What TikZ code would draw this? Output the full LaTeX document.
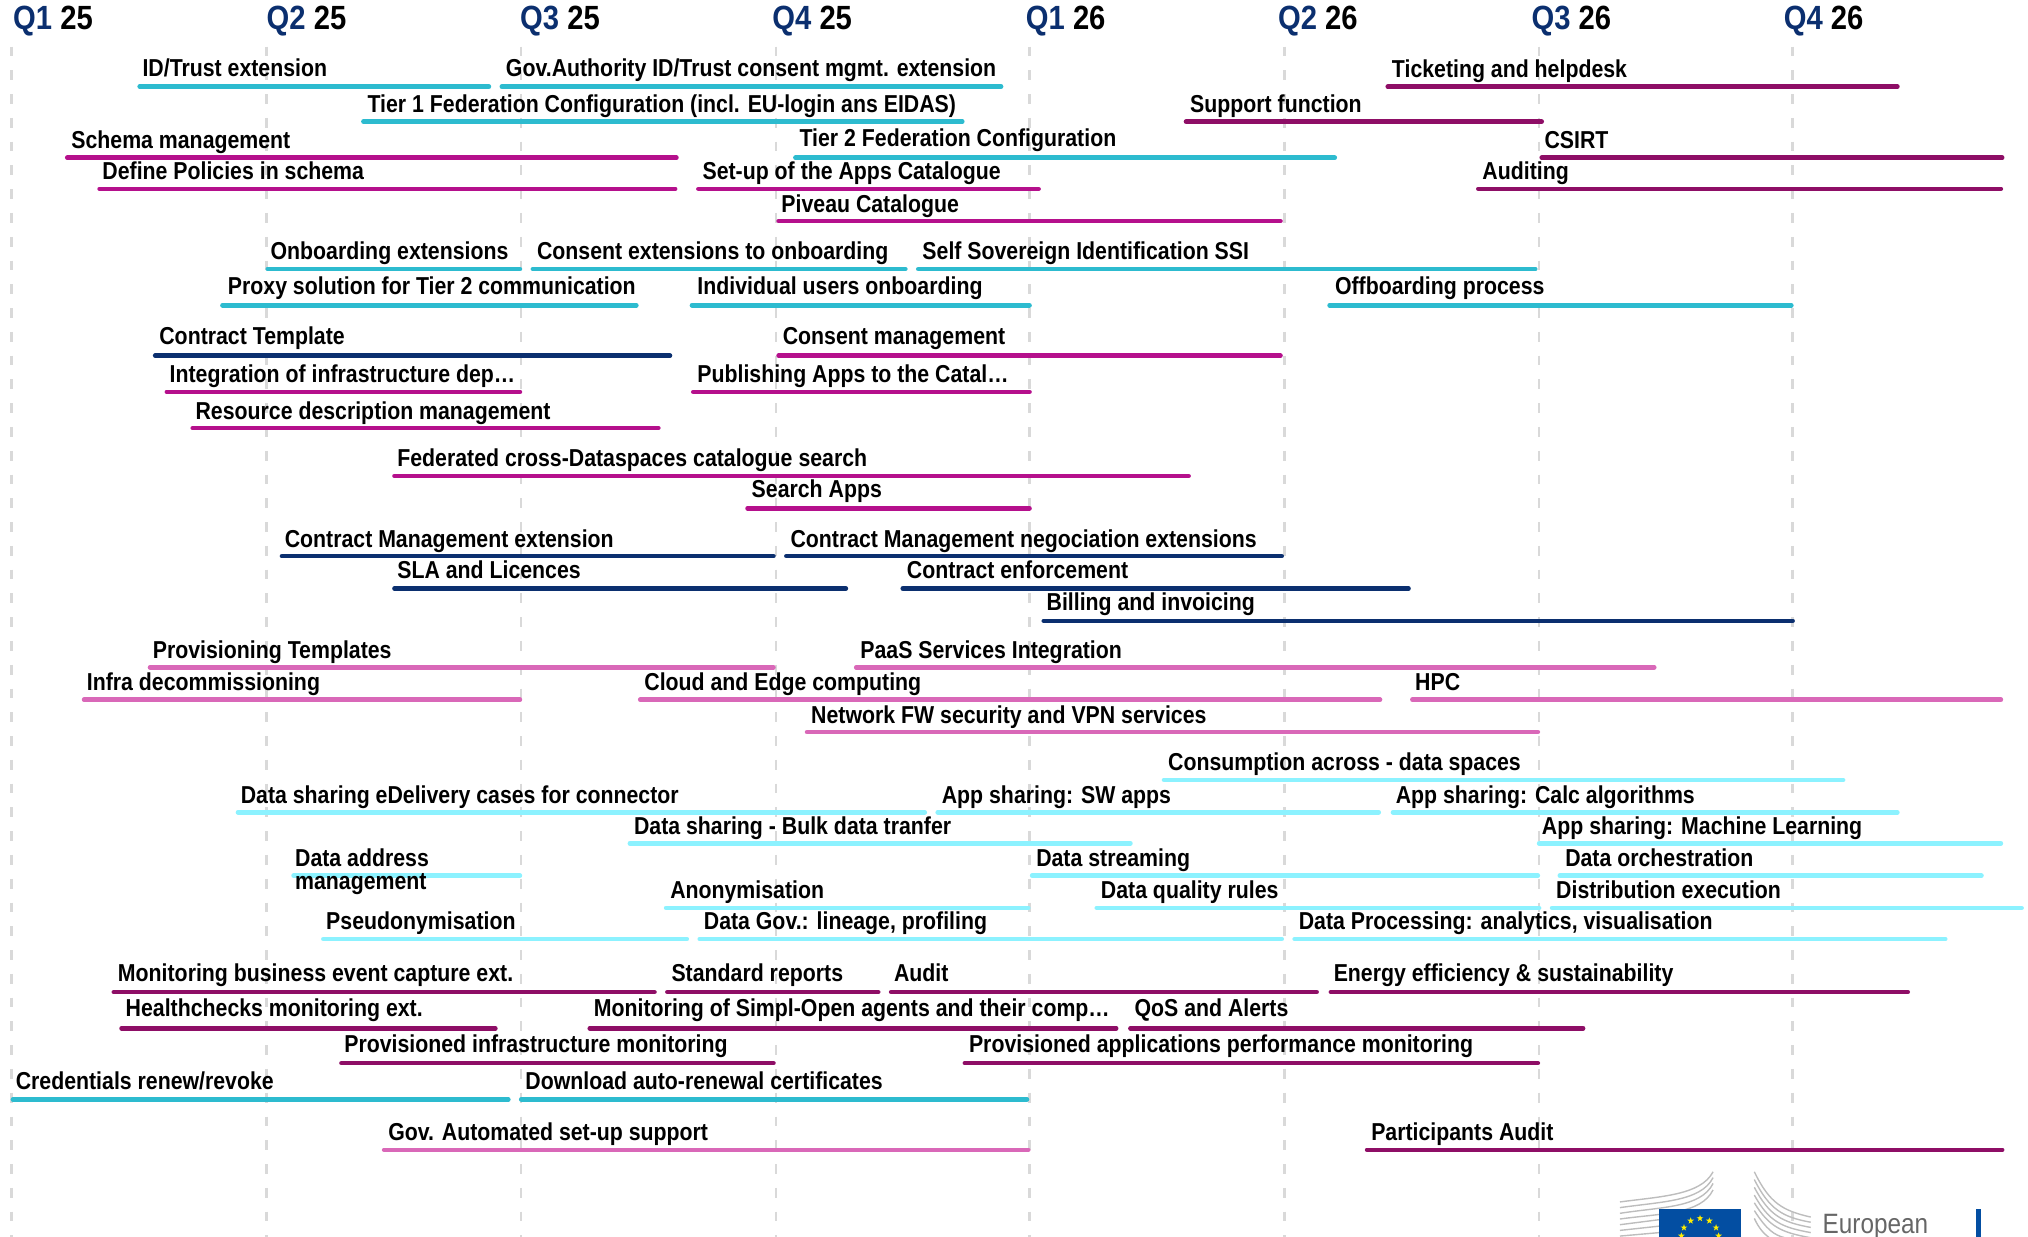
\documentclass[tikz,border=0pt]{standalone}
\usepackage{fontspec}
\setmainfont{Liberation Sans}[FakeStretch=0.87]
\usepackage{xcolor}
\usetikzlibrary{shapes.geometric}

\definecolor{quarterblue}{HTML}{0B2F6F}
\definecolor{tealbar}{HTML}{2DBBCF}
\definecolor{magentabar}{HTML}{B5108C}
\definecolor{navybar}{HTML}{0B2F6F}
\definecolor{pinkbar}{HTML}{D968B8}
\definecolor{cyanbar}{HTML}{8CF2FF}
\definecolor{purplebar}{HTML}{8E0E66}
\definecolor{gridgrey}{HTML}{D9D9D9}
\definecolor{wingsgrey}{HTML}{BDBDBD}
\definecolor{flagblue}{HTML}{034EA2}
\definecolor{flagyellow}{HTML}{FFED00}

\begin{document}
\begin{tikzpicture}[x=0.0325cm,y=-0.0325cm]
\tikzstyle{quarter} = [anchor=base west, inner sep=0pt, font=\fontsize{24pt}{26pt}\selectfont\bfseries]
\tikzstyle{task} = [anchor=base west, inner sep=0pt, font=\fontsize{17.5pt}{19pt}\selectfont\bfseries]
\tikzstyle{grid} = [gridgrey, line width=1.8pt, dash pattern=on 7pt off 10pt]
\tikzstyle{bar} = [line width=3.3pt, line cap=round]
\tikzstyle{teal} = [bar, tealbar]
\tikzstyle{magenta} = [bar, magentabar]
\tikzstyle{navy} = [bar, navybar]
\tikzstyle{pink} = [bar, pinkbar]
\tikzstyle{cyan} = [bar, cyanbar]
\tikzstyle{purple} = [bar, purplebar]
\tikzstyle{wing} = [wingsgrey, line width=1pt]
\tikzstyle{eustar} = [star, star points=5, star point ratio=2.5, fill=flagyellow, inner sep=0pt, minimum size=5pt]

\useasboundingbox (0,0) rectangle (1568,956.4);

% Grid
\draw [grid] (9,36) -- (9,956.4);
\draw [grid] (206,36) -- (206,956.4);
\draw [grid] (403,36) -- (403,956.4);
\draw [grid] (600,36) -- (600,956.4);
\draw [grid] (796,36) -- (796,956.4);
\draw [grid] (993,36) -- (993,956.4);
\draw [grid] (1190,36) -- (1190,956.4);
\draw [grid] (1386,36) -- (1386,956.4);

% Quarters
\node (qa) [quarter] at (10,23) {\textcolor{quarterblue}{Q1} 25};
\node (qb) [quarter] at (206,23) {\textcolor{quarterblue}{Q2} 25};
\node (qc) [quarter] at (402,23) {\textcolor{quarterblue}{Q3} 25};
\node (qd) [quarter] at (597,23) {\textcolor{quarterblue}{Q4} 25};
\node (qe) [quarter] at (793,23) {\textcolor{quarterblue}{Q1} 26};
\node (qf) [quarter] at (988,23) {\textcolor{quarterblue}{Q2} 26};
\node (qg) [quarter] at (1184,23) {\textcolor{quarterblue}{Q3} 26};
\node (qh) [quarter] at (1379,23) {\textcolor{quarterblue}{Q4} 26};

% Bars
\draw [teal] (108,67) -- (378,67);
\draw [teal] (388,67) -- (774,67);
\draw [teal] (281,94) -- (744,94);
\draw [magenta] (52,122) -- (523,122);
\draw [magenta] (77,146) -- (522,146);
\draw [purple] (1073,67) -- (1467,67);
\draw [purple] (917,94) -- (1192,94);
\draw [purple] (1192,122) -- (1548,122);
\draw [purple] (1143,146) -- (1547,146);
\draw [teal] (615,122) -- (1032,122);
\draw [magenta] (540,146) -- (803,146);
\draw [magenta] (602,171) -- (990,171);
\draw [teal] (207,208) -- (402,208);
\draw [teal] (412,208) -- (700,208);
\draw [teal] (710,208) -- (1187,208);
\draw [teal] (172,236) -- (492,236);
\draw [teal] (535,236) -- (796,236);
\draw [teal] (1028,236) -- (1385,236);
\draw [navy] (120,275) -- (518,275);
\draw [magenta] (602,275) -- (990,275);
\draw [magenta] (129,303) -- (402,303);
\draw [magenta] (536,303) -- (796,303);
\draw [magenta] (149,331) -- (509,331);
\draw [magenta] (305,368) -- (919,368);
\draw [magenta] (578,393) -- (796,393);
\draw [navy] (218,430) -- (598,430);
\draw [navy] (608,430) -- (991,430);
\draw [navy] (305,455) -- (654,455);
\draw [navy] (698,455) -- (1089,455);
\draw [navy] (807,480) -- (1386,480);
\draw [pink] (116,516) -- (598,516);
\draw [pink] (662,516) -- (1279,516);
\draw [pink] (65,541) -- (402,541);
\draw [pink] (495,541) -- (1067,541);
\draw [pink] (1092,541) -- (1547,541);
\draw [pink] (624,566) -- (1189,566);
\draw [cyan] (900,603) -- (1425,603);
\draw [cyan] (184,628) -- (715,628);
\draw [cyan] (725,628) -- (1066,628);
\draw [cyan] (1077,628) -- (1467,628);
\draw [cyan] (487,652) -- (874,652);
\draw [cyan] (1190,652) -- (1547,652);
\draw [cyan] (227,677) -- (402,677);
\draw [cyan] (798,677) -- (1189,677);
\draw [cyan] (1206,677) -- (1532,677);
\draw [cyan] (515,702) -- (795,702);
\draw [cyan] (848,702) -- (1190,702);
\draw [cyan] (1200,702) -- (1563,702);
\draw [cyan] (250,726) -- (531,726);
\draw [cyan] (541,726) -- (991,726);
\draw [cyan] (1001,726) -- (1504,726);
\draw [purple] (88,767) -- (506,767);
\draw [purple] (516,767) -- (679,767);
\draw [purple] (689,767) -- (1018,767);
\draw [purple] (1029,767) -- (1475,767);
\draw [purple] (94,795) -- (383,795);
\draw [purple] (456,795) -- (863,795);
\draw [purple] (874,795) -- (1224,795);
\draw [purple] (264,822) -- (598,822);
\draw [purple] (746,822) -- (1189,822);
\draw [teal] (10,850) -- (393,850);
\draw [teal] (403,850) -- (794,850);
\draw [pink] (297,889) -- (795,889);
\draw [purple] (1057,889) -- (1548,889);

% Tasks
\node (idtrust) [task] at (110,59) {ID/Trust extension};
\node (govauth) [task] at (391,59) {Gov.Authority ID/Trust consent mgmt. extension};
\node (tierone) [task] at (284,87) {Tier 1 Federation Configuration (incl. EU-login ans EIDAS)};
\node (schema) [task] at (55,115) {Schema management};
\node (policies) [task] at (79,139) {Define Policies in schema};
\node (ticketing) [task] at (1076,60) {Ticketing and helpdesk};
\node (support) [task] at (920,87) {Support function};
\node (csirt) [task] at (1194,115) {CSIRT};
\node (auditing) [task] at (1146,139) {Auditing};
\node (tiertwo) [task] at (618,113) {Tier 2 Federation Configuration};
\node (appscat) [task] at (543,139) {Set-up of the Apps Catalogue};
\node (piveau) [task] at (604,164) {Piveau Catalogue};
\node (onboarding) [task] at (209,201) {Onboarding extensions};
\node (consentext) [task] at (415,201) {Consent extensions to onboarding};
\node (ssi) [task] at (713,201) {Self Sovereign Identification SSI};
\node (proxy) [task] at (176,228) {Proxy solution for Tier 2 communication};
\node (individual) [task] at (539,228) {Individual users onboarding};
\node (offboarding) [task] at (1032,228) {Offboarding process};
\node (contract) [task] at (123,266) {Contract Template};
\node (consent) [task] at (605,266) {Consent management};
\node (integration) [task] at (131,296) {Integration of infrastructure dep…};
\node (publishing) [task] at (539,296) {Publishing Apps to the Catal…};
\node (resource) [task] at (151,324) {Resource description management};
\node (federated) [task] at (307,361) {Federated cross-Dataspaces catalogue search};
\node (searchapps) [task] at (581,385) {Search Apps};
\node (cmext) [task] at (220,423) {Contract Management extension};
\node (cmneg) [task] at (611,423) {Contract Management negociation extensions};
\node (sla) [task] at (307,447) {SLA and Licences};
\node (enforcement) [task] at (701,447) {Contract enforcement};
\node (billing) [task] at (809,472) {Billing and invoicing};
\node (provtemp) [task] at (118,509) {Provisioning Templates};
\node (paas) [task] at (665,509) {PaaS Services Integration};
\node (infra) [task] at (67,534) {Infra decommissioning};
\node (edge) [task] at (498,534) {Cloud and Edge computing};
\node (hpc) [task] at (1094,534) {HPC};
\node (network) [task] at (627,559) {Network FW security and VPN services};
\node (consumption) [task] at (903,596) {Consumption across - data spaces};
\node (delivery) [task] at (186,621) {Data sharing eDelivery cases for connector};
\node (swapps) [task] at (728,621) {App sharing: SW apps};
\node (calc) [task] at (1079,621) {App sharing: Calc algorithms};
\node (bulk) [task] at (490,645) {Data sharing - Bulk data tranfer};
\node (ml) [task] at (1192,645) {App sharing: Machine Learning};
\node (address) [task] at (228,670) {Data address};
\node (addressb) [task] at (228,688) {management};
\node (streaming) [task] at (801,670) {Data streaming};
\node (orchestration) [task] at (1210,670) {Data orchestration};
\node (anonym) [task] at (518,695) {Anonymisation};
\node (quality) [task] at (851,695) {Data quality rules};
\node (distribution) [task] at (1203,695) {Distribution execution};
\node (pseudo) [task] at (252,719) {Pseudonymisation};
\node (lineage) [task] at (544,719) {Data Gov.: lineage, profiling};
\node (processing) [task] at (1004,719) {Data Processing: analytics, visualisation};
\node (business) [task] at (91,759) {Monitoring business event capture ext.};
\node (reports) [task] at (519,759) {Standard reports};
\node (audit) [task] at (691,759) {Audit};
\node (energy) [task] at (1031,759) {Energy efficiency \& sustainability};
\node (health) [task] at (97,786) {Healthchecks monitoring ext.};
\node (agents) [task] at (459,786) {Monitoring of Simpl-Open agents and their comp…};
\node (qos) [task] at (877,786) {QoS and Alerts};
\node (provinfra) [task] at (266,814) {Provisioned infrastructure monitoring};
\node (provapps) [task] at (749,814) {Provisioned applications performance monitoring};
\node (credentials) [task] at (12,842) {Credentials renew/revoke};
\node (renewal) [task] at (406,842) {Download auto-renewal certificates};
\node (automated) [task] at (300,882) {Gov. Automated set-up support};
\node (participants) [task] at (1060,882) {Participants Audit};

% Logo
\draw [wing] (1252.5,929.3) .. controls (1285,925) and (1315,924) .. (1324.5,906);
\draw [wing] (1252.5,933.7) .. controls (1285,929) and (1315,929) .. (1324.5,910.5);
\draw [wing] (1252.5,938.1) .. controls (1285,933) and (1315,934) .. (1324.5,915);
\draw [wing] (1252.5,942.5) .. controls (1285,938) and (1315,939) .. (1324.5,920);
\draw [wing] (1252.5,946.9) -- (1283,943);
\draw [wing] (1252.5,951.3) -- (1283,948);
\draw [wing] (1252.5,955.7) -- (1283,953);
\draw [wing] (1356.4,906) .. controls (1368,930) and (1378,936) .. (1400,941);
\draw [wing] (1356.4,912) .. controls (1368,935) and (1378,941) .. (1400,945);
\draw [wing] (1356.4,918) .. controls (1368,940) and (1378,945) .. (1400,949);
\draw [wing] (1356.4,924) .. controls (1368,945) and (1378,949) .. (1400,953);
\draw [wing] (1356.4,930) .. controls (1368,949) and (1378,953) .. (1400,957);
\draw [wing] (1356.4,936) .. controls (1366,951) and (1372,955) .. (1380,957);
\draw [wing] (1356.4,942) .. controls (1360,950) and (1364,954) .. (1368,957);
\fill [flagblue] (1283,934.8) rectangle (1346,956.4);
\node (stara) [eustar] at (1314.4,942) {};
\node (starb) [eustar] at (1307.2,943.9) {};
\node (starc) [eustar] at (1321.6,943.9) {};
\node (stard) [eustar] at (1302,949.2) {};
\node (stare) [eustar] at (1326.8,949.2) {};
\node (starf) [eustar] at (1300,955.5) {};
\node (starg) [eustar] at (1328.8,955.5) {};
\node (european) [anchor=base west, inner sep=0pt, text=black!60, font=\fontsize{20pt}{22pt}\selectfont] at (1409,954) {European};
\fill [flagblue] (1528,935) rectangle (1531.5,956.4);

\end{tikzpicture}
\end{document}
